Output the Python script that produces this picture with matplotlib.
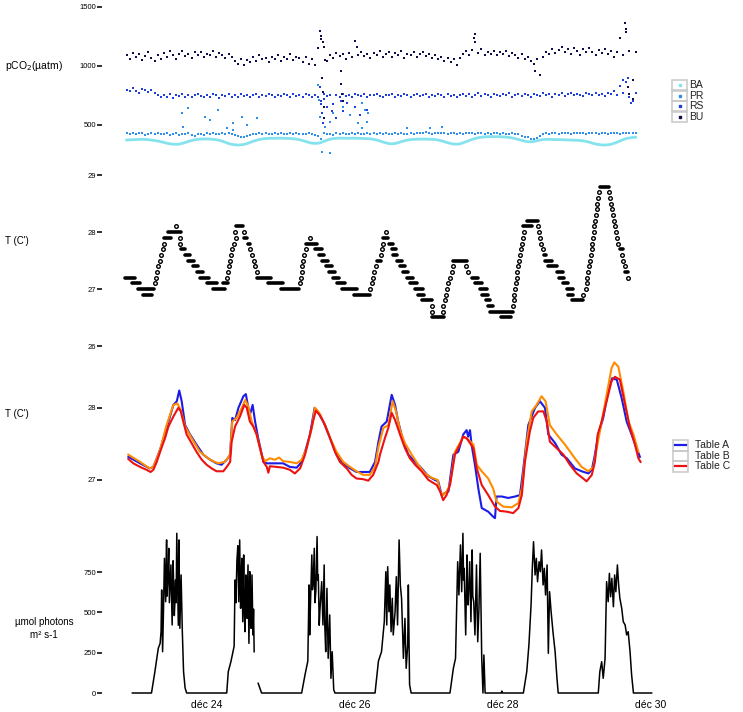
import numpy as np
import matplotlib.pyplot as plt
from matplotlib.patches import Rectangle
from matplotlib.lines import Line2D

plt.rcParams['font.family'] = ['Liberation Sans', 'DejaVu Sans']

# pCO2 (µatm), hourly readings starting 2 h before Dec 23 00:00
ba = [372, 374, 375, 376, 378, 378, 377, 375, 372, 368, 364, 358, 352, 345, 340, 337, 336, 338, 344, 352, 360, 368, 374, 378,
      380, 381, 381, 380, 378, 375, 370, 362, 352, 343, 336, 332, 330, 331, 335, 342, 352, 362, 370, 377, 382, 385, 386, 387,
      387, 388, 388, 387, 386, 385, 383, 380, 375, 368, 360, 352, 346, 344, 345, 352, 362, 372, 380, 385, 387, 388, 388, 387,
      387, 388, 388, 387, 386, 385, 384, 382, 378, 372, 365, 356, 348, 342, 340, 343, 350, 358, 366, 372, 376, 378, 379, 380,
      380, 380, 379, 378, 376, 372, 366, 358, 350, 343, 338, 337, 340, 348, 358, 368, 378, 386, 392, 396, 399, 400, 401, 401,
      401, 400, 399, 397, 394, 390, 384, 377, 370, 363, 358, 357, 360, 366, 372, 376, 378, 378, 377, 376, 376, 375, 374, 373,
      372, 371, 370, 368, 365, 360, 354, 346, 339, 334, 331, 330, 332, 336, 344, 354, 365, 376, 385, 390, 394, 396]
pr = [430, 425, 435, 420, 428, 432, 418, 426, 434, 422, 430, 425, 420, 428, 415, 422, 430, 418, 425, 420, 428, 415, 410, 420,
      425, 418, 430, 422, 428, 420, 426, 432, 420, 428, 424, 418, 410, 400, 395, 405, 415, 425, 420, 428, 422, 430, 425, 420,
      428, 422, 430, 425, 420, 428, 424, 430, 422, 426, 420, 428, 424, 418, 410, 380, 430, 420, 425, 415, 428, 422, 430, 425,
      420, 428, 424, 430, 422, 426, 428, 420, 432, 425, 428, 422, 430, 426, 420, 428, 424, 432, 426, 422, 430, 425, 428, 435,
      428, 440, 430, 425, 432, 428, 436, 430, 426, 432, 428, 422, 430, 425, 428, 434, 430, 426, 432, 428, 425, 430, 426, 432,
      428, 425, 430, 426, 420, 428, 424, 420, 410, 400, 395, 385, 380, 390, 410, 425, 430, 426, 432, 428, 425, 430, 428, 432,
      426, 430, 428, 434, 428, 425, 432, 428, 430, 426, 432, 428, 425, 430, 428, 432, 426, 430, 428, 432, 430, 428]
rs = [800, 785, 810, 790, 775, 805, 795, 780, 800, 770, 750, 735, 755, 740, 760, 730, 750, 745, 765, 735, 755, 740, 750, 760,
      745, 735, 755, 740, 760, 750, 730, 755, 745, 765, 740, 750, 735, 760, 745, 755, 740, 750, 765, 735, 755, 745, 760, 750,
      740, 755, 745, 765, 750, 735, 760, 745, 755, 740, 765, 750, 740, 755, 735, 700, 760, 745, 755, 680, 750, 740, 760, 745,
      755, 740, 760, 750, 745, 765, 740, 755, 750, 760, 745, 735, 755, 750, 765, 740, 755, 745, 760, 750, 740, 755, 765, 745,
      750, 760, 740, 755, 745, 765, 750, 740, 760, 745, 755, 735, 750, 765, 745, 760, 740, 755, 770, 745, 760, 750, 740, 765,
      755, 745, 760, 750, 770, 740, 755, 765, 745, 760, 750, 740, 765, 755, 745, 770, 750, 760, 740, 765, 755, 775, 745, 760,
      770, 750, 765, 755, 745, 770, 760, 750, 775, 755, 765, 745, 770, 760, 790, 750, 830, 770, 860, 740, 700, 770]
bu = [1090, 1060, 1110, 1075, 1100, 1050, 1085, 1120, 1070, 1040, 1095, 1060, 1110, 1080, 1125, 1090, 1060, 1105, 1130, 1085, 1100, 1070, 1115, 1090,
      1120, 1080, 1105, 1095, 1130, 1075, 1110, 1090, 1065, 1100, 1080, 1045, 1020, 1060, 1010, 1050, 1035, 1075, 1040, 1090, 1055, 1070, 1030, 1080,
      1060, 1095, 1045, 1075, 1060, 1100, 1050, 1080, 1065, 1035, 1075, 1020, 1055, 1010, 1150, 1230, 1160, 1040, 1090, 1070, 1110, 1085, 1100, 1060,
      1110, 1080, 1215, 1095, 1120, 1085, 1105, 1065, 1110, 1090, 1130, 1075, 1100, 1120, 1080, 1110, 1095, 1125, 1070, 1105, 1090, 1115, 1080, 1100,
      1120, 1085, 1105, 1070, 1095, 1060, 1080, 1045, 1065, 1030, 1055, 1010, 1070, 1100, 1125, 1090, 1135, 1270, 1110, 1140, 1095, 1120, 1105, 1130,
      1090, 1115, 1100, 1125, 1085, 1110, 1095, 1070, 1100, 1060, 1080, 1045, 1020, 1060, 925, 1080, 1120, 1100, 1145, 1110, 1135, 1160, 1120, 1140,
      1105, 1150, 1125, 1095, 1140, 1115, 1150, 1120, 1090, 1135, 1110, 1145, 1100, 1125, 1080, 1115, 1240, 1095, 1310, 1130, 880, 1120]

# scattered pCO2 readings off the main bands (hour, value)
pr_out_h = [15.8, 16.3, 17.9, 23.3, 25.0, 27.7, 30.4, 32.5, 32.5, 35.3, 36.9, 40.1, 60.0, 60.2, 60.6, 61.2,
            62.3, 63.9, 63.9, 65.0, 68.2, 70.4, 73.1, 74.2, 74.2, 75.2, 75.8, 76.3, 88.8, 96.3, 100.1]
pr_out_v = [604, 486, 641, 571, 542, 627, 472, 514, 458, 571, 500, 557, 839, 712, 571, 274,
            486, 528, 260, 599, 655, 585, 514, 472, 684, 627, 528, 599, 472, 472, 486]
rs_out_h = [60.5, 61.0, 61.3, 61.6, 62.0, 63.0, 64.5, 66.0, 67.5, 68.0, 69.4, 72.0, 73.6, 75.9, 159.0, 160.5, 161.5]
rs_out_v = [820, 680, 600, 520, 720, 650, 620, 560, 700, 620, 684, 655, 585, 627, 880, 900, 690]
bu_out_h = [60.5, 61.0, 61.5, 61.2, 61.6, 62.0, 61.8, 62.3, 67.5, 67.6, 67.8, 68.0, 72.5, 110.5, 111.0,
            130.3, 159.5, 160.0, 160.5, 161.0, 162.0]
bu_out_v = [1300, 1250, 1200, 900, 780, 650, 560, 1050, 960, 850, 760, 700, 1160, 1240, 1200,
            960, 1360, 1290, 820, 760, 720]

# logger temperature, 0.1 C resolution: (start hour, end hour, level)
temp_steps = [
    (-2.6, 0.6, 27.2), (-0.3, 2.3, 27.1), (1.6, 4.5, 27.0), (3.2, 6.2, 26.9), (5.0, 6.8, 27.0),
    (7.1, 7.1, 27.1), (7.5, 7.5, 27.2), (7.8, 7.8, 27.3), (8.1, 8.1, 27.4), (8.8, 8.8, 27.5),
    (9.1, 9.1, 27.6), (9.7, 9.7, 27.7), (10.1, 10.1, 27.8), (10.1, 12.3, 27.9), (11.4, 15.6, 28.0),
    (13.9, 13.9, 28.1), (15.2, 15.2, 27.9), (15.2, 15.2, 27.8), (15.6, 16.9, 27.7), (16.9, 18.5, 27.6),
    (17.8, 19.8, 27.5), (19.5, 21.1, 27.4), (20.8, 22.7, 27.3), (21.7, 24.6, 27.2), (24.0, 27.2, 27.1),
    (25.9, 29.8, 27.0), (29.2, 30.8, 27.1), (30.5, 30.5, 27.2), (30.8, 30.8, 27.3), (31.1, 31.1, 27.4),
    (31.4, 31.4, 27.5), (31.8, 31.8, 27.6), (32.2, 32.2, 27.7), (32.9, 32.9, 27.8), (33.5, 33.5, 27.9),
    (33.1, 33.1, 28.0), (33.5, 35.7, 28.1), (35.9, 35.9, 28.0), (36.0, 37.0, 27.9), (37.3, 37.9, 27.8),
    (38.0, 38.0, 27.7), (38.6, 38.6, 27.6), (39.2, 39.2, 27.5), (39.7, 39.7, 27.4), (40.2, 40.2, 27.3),
    (40.2, 44.8, 27.2), (43.8, 48.6, 27.1), (48.0, 53.8, 27.0), (54.2, 54.2, 27.1), (54.4, 54.4, 27.2),
    (54.7, 54.7, 27.3), (54.9, 54.9, 27.4), (55.2, 55.2, 27.5), (55.6, 55.6, 27.6), (56.0, 56.0, 27.7),
    (56.1, 59.7, 27.8), (57.4, 57.4, 27.9), (59.0, 61.3, 27.7), (60.3, 61.9, 27.6), (61.3, 63.2, 27.5),
    (62.6, 64.5, 27.4), (63.6, 65.5, 27.3), (64.9, 66.8, 27.2), (66.2, 68.8, 27.1), (67.8, 72.6, 27.0),
    (71.7, 76.9, 26.9), (76.9, 76.9, 27.0), (77.4, 77.4, 27.1), (77.7, 77.7, 27.2), (78.2, 78.2, 27.3),
    (78.7, 78.7, 27.4), (79.0, 80.3, 27.5), (80.3, 80.3, 27.6), (80.7, 80.7, 27.7), (81.0, 81.0, 27.8),
    (81.2, 82.8, 27.9), (82.0, 82.0, 28.0), (83.1, 84.4, 27.8), (83.9, 85.3, 27.7), (84.4, 85.7, 27.6),
    (85.5, 87.1, 27.5), (86.6, 88.2, 27.4), (87.5, 89.3, 27.3), (88.8, 90.7, 27.2), (89.8, 92.0, 27.1),
    (91.5, 94.1, 27.0), (92.5, 94.4, 26.9), (93.6, 96.9, 26.8), (97.1, 97.1, 26.7), (97.1, 97.1, 26.6),
    (96.9, 100.9, 26.5), (100.6, 100.6, 26.6), (100.6, 100.6, 26.7), (101.2, 101.2, 26.8), (101.5, 101.5, 26.9),
    (101.9, 101.9, 27.0), (102.3, 102.3, 27.1), (102.8, 102.8, 27.2), (103.3, 103.3, 27.3), (103.9, 103.9, 27.4),
    (103.9, 108.4, 27.5), (108.0, 108.0, 27.4), (108.7, 108.7, 27.3), (109.8, 112.0, 27.2), (110.9, 113.1, 27.1),
    (112.5, 114.7, 27.0), (113.1, 115.2, 26.9), (114.5, 115.8, 26.8), (115.2, 116.8, 26.7), (115.8, 123.3, 26.6),
    (119.2, 122.5, 26.5), (123.3, 123.3, 26.7), (123.6, 123.6, 26.8), (123.7, 123.7, 26.9), (123.9, 123.9, 27.0),
    (124.1, 124.1, 27.1), (124.4, 124.4, 27.2), (124.6, 124.6, 27.3), (125.0, 125.0, 27.4), (125.3, 125.3, 27.5),
    (125.5, 125.5, 27.6), (125.8, 125.8, 27.7), (126.1, 126.1, 27.8), (126.4, 126.4, 27.9), (126.9, 126.9, 28.0),
    (126.6, 129.3, 28.1), (127.7, 131.4, 28.2), (131.4, 131.4, 28.1), (131.8, 131.8, 28.0), (132.0, 132.0, 27.9),
    (132.3, 132.3, 27.8), (132.9, 132.9, 27.7), (133.2, 133.8, 27.6), (133.6, 135.8, 27.5), (134.7, 137.4, 27.4),
    (137.4, 139.6, 27.3), (138.3, 139.8, 27.2), (139.6, 141.2, 27.1), (140.7, 142.8, 27.0), (141.2, 142.8, 26.9),
    (142.3, 146.0, 26.8), (146.0, 146.0, 26.9), (146.9, 146.9, 27.0), (147.1, 147.1, 27.1), (147.4, 147.4, 27.2),
    (147.6, 147.6, 27.3), (148.0, 148.0, 27.4), (148.2, 148.2, 27.5), (148.5, 148.5, 27.6), (148.7, 148.7, 27.7),
    (149.0, 149.0, 27.8), (149.3, 149.3, 27.9), (149.4, 149.4, 28.0), (149.5, 149.5, 28.1), (149.8, 149.8, 28.2),
    (150.1, 150.1, 28.3), (150.4, 150.4, 28.4), (150.6, 150.6, 28.5), (150.9, 150.9, 28.6), (151.2, 151.2, 28.7),
    (151.4, 154.5, 28.8), (154.5, 154.5, 28.7), (154.7, 154.7, 28.6), (154.9, 154.9, 28.5), (155.3, 155.3, 28.4),
    (155.8, 155.8, 28.3), (156.1, 156.1, 28.2), (156.3, 156.3, 28.1), (156.6, 156.6, 28.0), (157.1, 157.1, 27.9),
    (157.4, 157.4, 27.8), (157.9, 159.0, 27.7), (158.7, 158.7, 27.6), (159.0, 159.0, 27.5), (159.6, 159.6, 27.4),
    (159.6, 160.4, 27.3), (160.6, 160.6, 27.2),
]

# Tables A, B, C temperature (hour, C)
table_a_h = [-1.5, 2.3, 5.4, 6.6, 8.8, 10.9, 13.1, 14.2, 15.0, 15.8, 16.9, 18.5, 20.6, 22.8, 25.0, 27.1, 28.7, 30.4,
             31.5, 32.2, 33.1, 34.2, 35.8, 36.6, 37.4, 38.1, 38.8, 39.6, 40.6, 42.3, 43.4, 46.6, 48.7, 50.9, 53.1,
             54.7, 55.8, 57.4, 58.9, 60.1, 61.7, 63.9, 66.0, 68.2, 70.4, 72.5, 74.7, 76.8, 78.5, 79.6, 80.6, 82.3,
             83.9, 85.0, 86.0, 87.7, 89.3, 91.5, 93.6, 95.8, 97.9, 99.0, 100.1, 101.2, 102.3, 103.9, 105.5, 107.1,
             108.2, 108.7, 109.3, 109.8, 110.9, 112.0, 113.1, 115.2, 116.8, 117.4, 117.9, 119.6, 121.7, 123.9, 125.5,
             126.6, 128.2, 130.4, 132.0, 133.6, 134.7, 136.9, 139.0, 140.7, 143.3, 145.5, 147.7, 148.8, 149.8, 150.9,
             152.5, 154.1, 155.4, 156.9, 158.5, 160.1, 161.7, 163.3, 164.4]
table_a_t = [27.32, 27.23, 27.16, 27.18, 27.42, 27.72, 28.04, 28.09, 28.24, 28.09, 27.76, 27.63, 27.49, 27.35, 27.28,
             27.23, 27.21, 27.28, 27.35, 27.86, 27.83, 28.0, 28.16, 28.19, 28.0, 27.93, 28.04, 27.81, 27.58, 27.25,
             27.23, 27.23, 27.23, 27.18, 27.17, 27.25, 27.39, 27.63, 28.0, 27.93, 27.81, 27.58, 27.35, 27.23, 27.16,
             27.11, 27.11, 27.11, 27.25, 27.53, 27.74, 27.81, 28.18, 28.04, 27.81, 27.53, 27.35, 27.25, 27.16, 27.05,
             27.0, 26.98, 26.79, 26.82, 26.84, 27.35, 27.39, 27.63, 27.69, 27.6, 27.69, 27.49, 27.21, 26.88, 26.61,
             26.56, 26.49, 26.47, 26.77, 26.77, 26.75, 26.77, 26.79, 27.16, 27.76, 28.0, 28.09, 28.0, 27.63, 27.51,
             27.35, 27.30, 27.16, 27.12, 27.09, 27.14, 27.35, 27.63, 27.86, 28.23, 28.41, 28.39, 28.13, 27.81, 27.63,
             27.44, 27.32]
table_b_h = [-1.5, 2.3, 5.4, 6.6, 8.8, 10.9, 13.1, 14.4, 15.5, 16.9, 19.0, 21.7, 25.0, 27.6, 29.8, 31.5, 32.2, 33.6,
             35.3, 36.4, 37.4, 38.5, 40.1, 41.7, 42.8, 44.4, 46.0, 47.4, 48.7, 50.9, 53.1, 54.7, 56.3, 58.0, 59.0,
             60.4, 62.3, 63.9, 66.0, 68.2, 70.4, 72.5, 74.7, 76.8, 78.5, 79.6, 81.2, 82.8, 84.2, 85.3, 86.6, 88.2,
             90.4, 92.5, 94.7, 96.9, 98.8, 99.6, 100.6, 101.7, 102.8, 104.4, 106.0, 107.1, 108.7, 110.4, 111.5, 113.1,
             115.2, 116.8, 117.9, 120.1, 122.8, 125.0, 126.1, 127.7, 129.3, 130.9, 132.5, 133.8, 135.2, 137.4, 140.1,
             143.3, 145.5, 147.7, 149.3, 150.4, 152.0, 153.6, 155.2, 156.1, 157.4, 159.0, 160.7, 162.3, 163.9]
table_b_t = [27.35, 27.25, 27.16, 27.18, 27.42, 27.76, 28.04, 28.06, 27.97, 27.74, 27.58, 27.39, 27.28, 27.23, 27.25,
             27.35, 27.81, 27.86, 28.0, 28.11, 28.02, 27.81, 27.63, 27.35, 27.26, 27.30, 27.28, 27.31, 27.26, 27.25,
             27.23, 27.28, 27.44, 27.72, 28.0, 27.93, 27.76, 27.58, 27.39, 27.25, 27.18, 27.12, 27.07, 27.07, 27.18,
             27.46, 27.72, 27.76, 28.09, 27.95, 27.69, 27.51, 27.35, 27.21, 27.09, 27.03, 27.0, 26.84, 26.79, 26.84,
             26.93, 27.39, 27.51, 27.6, 27.56, 27.49, 27.21, 27.12, 27.02, 26.88, 26.70, 26.63, 26.62, 26.68, 26.88,
             27.53, 27.95, 28.04, 28.16, 28.09, 27.76, 27.63, 27.49, 27.30, 27.18, 27.12, 27.18, 27.44, 27.81, 28.18,
             28.55, 28.63, 28.57, 28.23, 27.81, 27.63, 27.39]
table_c_h = [-1.5, 0.1, 2.3, 4.4, 5.7, 6.6, 7.7, 8.8, 10.4, 11.5, 13.1, 14.7, 15.5, 16.3, 17.4, 19.0, 20.6, 22.3, 23.9,
             25.5, 27.1, 29.3, 30.4, 31.5, 32.0, 33.1, 34.7, 36.1, 36.9, 37.9, 39.0, 40.1, 41.2, 42.3, 43.4, 43.9,
             44.4, 46.6, 48.7, 50.9, 52.5, 54.2, 55.8, 57.4, 58.5, 59.3, 60.6, 62.3, 63.9, 65.5, 67.1, 69.3, 70.9,
             72.5, 74.7, 76.3, 77.9, 79.6, 80.1, 81.7, 82.8, 83.9, 85.0, 86.6, 88.2, 89.8, 91.5, 93.6, 95.8, 98.5,
             99.6, 100.6, 101.7, 102.8, 104.4, 106.0, 107.1, 108.2, 109.3, 110.4, 111.5, 113.1, 115.2, 117.4, 119.0,
             121.2, 123.3, 125.0, 126.1, 127.1, 128.7, 129.8, 131.4, 133.1, 134.2, 135.2, 137.4, 139.6, 141.7, 143.9,
             146.0, 147.1, 148.8, 149.8, 150.7, 152.0, 153.6, 155.2, 156.3, 157.9, 159.6, 161.2, 162.8, 163.9, 164.6]
table_c_t = [27.29, 27.23, 27.18, 27.14, 27.11, 27.14, 27.25, 27.39, 27.58, 27.74, 27.88, 28.0, 27.95, 27.81, 27.63,
             27.51, 27.39, 27.28, 27.21, 27.16, 27.12, 27.12, 27.18, 27.25, 27.53, 27.74, 27.88, 28.04, 28.0, 27.81,
             27.74, 27.63, 27.44, 27.25, 27.18, 27.10, 27.19, 27.18, 27.17, 27.14, 27.09, 27.16, 27.35, 27.63, 27.83,
             27.96, 27.9, 27.76, 27.58, 27.39, 27.25, 27.16, 27.07, 27.02, 27.01, 26.99, 27.07, 27.25, 27.35, 27.58,
             27.72, 27.93, 27.83, 27.63, 27.44, 27.30, 27.21, 27.12, 27.0, 26.93, 26.84, 26.72, 26.79, 26.93, 27.35,
             27.49, 27.6, 27.58, 27.51, 27.44, 27.16, 26.93, 26.79, 26.63, 26.57, 26.56, 26.54, 26.61, 26.79, 27.25,
             27.67, 27.86, 27.95, 27.95, 27.81, 27.53, 27.44, 27.35, 27.21, 27.09, 27.02, 26.98, 27.07, 27.25, 27.63,
             27.81, 28.09, 28.37, 28.43, 28.39, 28.04, 27.72, 27.49, 27.30, 27.25]

# light (µmol photons m-2 s-1), nan = missing record
light_h = [-0.2, 6.0, 7.1, 8.2, 8.8, 9.1, 9.3, 9.6, 9.9, 10.2, 10.4, 10.6, 10.9, 11.0, 11.2, 11.4, 11.6, 11.8, 12.0,
           12.3, 12.5, 12.7, 13.0, 13.2, 13.4, 13.6, 13.8, 14.0, 14.2, 14.5, 14.7, 14.9, 15.2, 15.4, 15.6, 16.0,
           16.4, 16.9, 17.4,
           30.4, 30.9, 31.8, 32.5, 32.8, 33.1, 33.4, 33.7, 34.0, 34.3, 34.6, 34.9, 35.1, 35.3, 35.6, 35.9, 36.1,
           36.3, 36.6, 36.8, 37.0, 37.3, 37.6, 37.9, 38.1, 38.3, 38.6, 38.9, 39.1, 39.3, 40.0, 40.6, 41.7,
           54.7, 55.8, 56.7, 57.1, 57.3, 57.5, 58.0, 58.2, 58.4, 58.8, 59.0, 59.3, 59.7, 59.9, 60.1, 60.4, 60.6,
           61.2, 61.6, 62.0, 62.2, 62.5, 62.9, 63.3, 63.8, 64.2, 64.6, 65.1, 65.5,
           78.5, 79.6, 80.6, 81.5, 82.0, 82.3, 82.6, 83.0, 83.3, 83.7, 84.1, 84.4, 85.0, 85.4, 85.8, 86.3, 86.7,
           87.1, 87.7, 88.2, 88.6, 89.1, 89.3, 89.7, 90.2,
           102.8, 103.9, 104.6, 105.3, 105.7, 106.2, 106.6, 107.0, 107.2, 107.4, 107.9, 108.3, 108.5, 108.7, 109.2,
           109.6, 110.0, 110.2, 110.5, 110.9, 111.4, 111.8, 112.2, 112.6, 113.1, 113.5, 113.8, 114.2,
           119.4, 119.6, 119.8,
           126.6, 127.7, 128.4, 129.1, 129.5, 129.9, 130.4, 130.8, 131.2, 131.7, 132.1, 132.5, 133.0, 133.4, 133.8,
           134.3, 134.7, 135.1, 135.6, 136.2, 136.9, 137.5, 137.9,
           150.9, 151.4, 152.0, 152.5, 153.1, 153.6, 154.1, 154.5, 154.9, 155.3, 155.8, 156.2, 156.6, 157.1, 157.5,
           157.9, 158.5, 159.0, 159.6, 160.1, 160.6, 161.2, 161.7, 162.3, 168.2]
light_v = [0, 0, 132, 277, 308, 380, 639, 256, 520, 835, 700, 566, 949, 600, 670, 760, 897, 560, 649,
           794, 600, 422, 820, 670, 480, 566, 700, 560, 990, 628, 420, 949, 401, 560, 732, 380,
           132, 31, 0,
           0, 132, 198, 264, 290, 701, 560, 820, 913, 566, 949, 525, 700, 835, 442, 856, 520,
           380, 732, 560, 463, 794, 308, 752, 480, 401, 732, 360, 520, 256, np.nan, 60, 0,
           0, 114, 198, 670, 360, 515, 856, 640, 670, 897, 560, 628, 970, 700, 732, 420, 505,
           690, 422, 794, 420, 256, 649, 215, 484, 91, 256, 20, 0,
           0, 198, 256, 442, 752, 422, 783, 504, 670, 380, 587, 360, 504, 721, 422, 949, 670,
           587, 215, 463, 153, 300, 670, 52, 0,
           0, 153, 215, 814, 608, 918, 628, 990, 700, 773, 360, 856, 600, 546, 814,
           442, 887, 600, 566, 360, 794, 318, 525, 866, 215, 0, 236, 0,
           0, 12, 0,
           0, 132, 298, 546, 773, 938, 732, 835, 690, 814, 752, 887, 670, 773, 608,
           794, 246, 628, 504, 380, 256, 91, 0,
           0, 132, 194, 91, 215, 690, 566, 742, 597, 711, 535, 732, 628, 794, 670,
           587, 525, 442, 422, 360, 380, 256, 114, 0, 0]

day_ticks = [24, 72, 120, 168]
day_labels = ['déc 24', 'déc 26', 'déc 28', 'déc 30']

W, H = 743, 712
fig = plt.figure(figsize=(W / 100, H / 100), dpi=100)
X0, X1 = 102, 680


def panel(top, bottom, ylim):
    ax = fig.add_axes([X0 / W, 1 - bottom / H, (X1 - X0) / W, (bottom - top) / H])
    ax.set_xlim(-10.05, 177.4)
    ax.set_ylim(*ylim)
    for s in ax.spines.values():
        s.set_visible(False)
    ax.set_xticks([])
    ax.tick_params(axis='y', length=3.5, width=1.3, pad=0.8, labelsize=5.5, color='#222222')
    ax.patch.set_alpha(0)
    return ax


def hours(vals):
    return -2 + np.arange(len(vals))


# panel 1: pCO2
c_ba, c_pr, c_rs, c_bu = '#86e3ee', '#2f8fea', '#1f3ee0', '#0d0d4d'
ms = 4.5
ax1 = panel(0, 160, (203, 1559))
ax1.plot(hours(ba), ba, color=c_ba, lw=2.0, zorder=1)
ax1.scatter(hours(pr), pr, s=ms, marker='s', color=c_pr, lw=0, zorder=2)
ax1.scatter(pr_out_h, pr_out_v, s=ms, marker='s', color=c_pr, lw=0, zorder=2)
ax1.scatter(hours(rs), rs, s=ms, marker='s', color=c_rs, lw=0, zorder=3)
ax1.scatter(rs_out_h, rs_out_v, s=ms, marker='s', color=c_rs, lw=0, zorder=3)
ax1.scatter(hours(bu), bu, s=ms, marker='s', color=c_bu, lw=0, zorder=4)
ax1.scatter(bu_out_h, bu_out_v, s=ms, marker='s', color=c_bu, lw=0, zorder=4)
ax1.set_yticks([500, 1000, 1500])

# panel 2: logger temperature
ax2 = panel(165, 330, (26.28, 29.18))
for start, end, level in temp_steps:
    if end > start:
        ax2.plot([start, end], [level, level], color='black', lw=2.6, solid_capstyle='round')
    else:
        ax2.plot([start], [level], 'o', mfc='white', mec='black', ms=2.6, mew=1.0)
ax2.set_yticks([27, 28, 29])

# panel 3: tables
ax3 = panel(340, 525, (26.375, 28.94))
ax3.plot(table_a_h, table_a_t, color='#1c1ce6', lw=1.5)
ax3.plot(table_b_h, table_b_t, color='#ff8c00', lw=1.5)
ax3.plot(table_c_h, table_c_t, color='#ec1212', lw=1.5)
ax3.set_yticks([27, 28, 28.85])
ax3.set_yticklabels(['27', '28', '26'])

# panel 4: light
ax4 = panel(525, 697, (-24.8, 1041.6))
ax4.plot(light_h, light_v, color='black', lw=1.1)
ax4.set_yticks([0, 250, 500, 750])
ax4.set_xticks(day_ticks)
ax4.set_xticklabels(day_labels)
ax4.tick_params(axis='x', length=0, pad=2, labelsize=7.5)

# axis titles
fig.text(5 / W, 1 - 66 / H, r'pCO$_2$(µatm)', fontsize=7.5, va='center', ha='left')
fig.text(5 / W, 1 - 241 / H, "T (C')", fontsize=7, va='center', ha='left')
fig.text(5 / W, 1 - 414 / H, "T (C')", fontsize=7, va='center', ha='left')
fig.text(44 / W, 1 - 622 / H, 'µmol photons', fontsize=7, va='center', ha='center')
fig.text(44 / W, 1 - 635 / H, 'm² s-1', fontsize=7, va='center', ha='center')


def key_box(x, y, w=15, h=10.5):
    fig.patches.append(Rectangle((x / W, 1 - (y + h) / H), w / W, h / H, transform=fig.transFigure,
                                 fill=False, ec='#c8c8c8', lw=1.1))


# pCO2 legend
for i, (name, col) in enumerate(zip(['BA', 'PR', 'RS', 'BU'], [c_ba, c_pr, c_rs, c_bu])):
    y = 80 + i * 10.5
    key_box(672, y)
    fig.add_artist(Line2D([679.5 / W], [1 - (y + 5.25) / H], marker='s', ms=1.8, color=col, lw=0,
                          transform=fig.transFigure))
    fig.text(689 / W, 1 - (y + 5.25) / H, name, fontsize=7.5, va='center', ha='left', color='#222222')

# tables legend
for i, (name, col) in enumerate(zip(['Table A', 'Table B', 'Table C'], ['#1c1ce6', None, '#ec1212'])):
    y = 440 + i * 10.5
    key_box(673, y)
    if col:
        fig.add_artist(Line2D([675 / W, 686 / W], [1 - (y + 5.25) / H] * 2, color=col, lw=1.6,
                              transform=fig.transFigure))
    fig.text(695 / W, 1 - (y + 5.25) / H, name, fontsize=7.5, va='center', ha='left', color='#222222')

fig.savefig('out.png', dpi=100)
